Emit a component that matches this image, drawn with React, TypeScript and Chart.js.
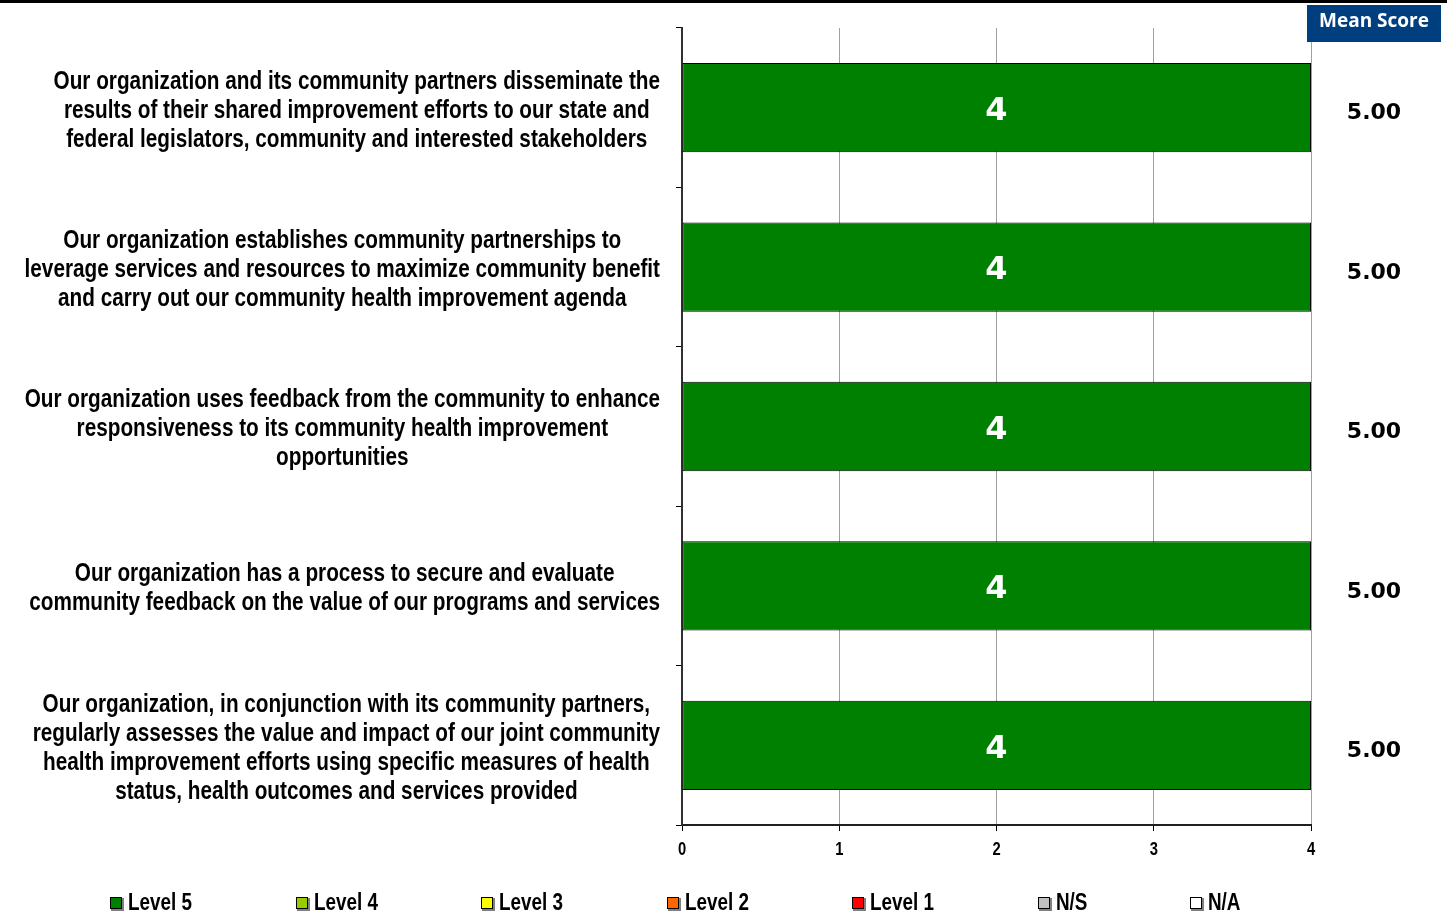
import React, { useEffect, useRef } from "react";
import { Chart, registerables } from "chart.js";

Chart.register(...registerables);

const categories: string[][] = [
  ["Our organization and its community partners disseminate the", "results of their shared improvement efforts to our state and", "federal legislators, community and interested stakeholders"],
  ["Our organization establishes community partnerships to", "leverage services and resources to maximize community benefit", "and carry out our community health improvement agenda"],
  ["Our organization uses feedback from the community to enhance", "responsiveness to its community health improvement", "opportunities"],
  ["Our organization has a process to secure and evaluate", "community feedback on the value of our programs and services"],
  ["Our organization, in conjunction with its community partners,", "regularly assesses the value and impact of our joint community", "health improvement efforts using specific measures of health", "status, health outcomes and services provided"],
];

const seriesNames = ["Level 5", "Level 4", "Level 3", "Level 2", "Level 1", "N/S", "N/A"];
const seriesColors = ["#008000", "#99CC00", "#FFFF00", "#FF6600", "#FF0000", "#C0C0C0", "#FFFFFF"];
const level5 = [4, 4, 4, 4, 4];
const level4 = [0, 0, 0, 0, 0];
const level3 = [0, 0, 0, 0, 0];
const level2 = [0, 0, 0, 0, 0];
const level1 = [0, 0, 0, 0, 0];
const notSure = [0, 0, 0, 0, 0];
const notApplicable = [0, 0, 0, 0, 0];
const meanScores = [5.0, 5.0, 5.0, 5.0, 5.0];
const xTicks = [0, 1, 2, 3, 4];

const SANS = '"Liberation Sans", Arial, sans-serif';
const VERD = '"DejaVu Sans", Verdana, sans-serif';
const LABEL_SCALE = 0.83;

function narrowText(ctx: any, text: string, x: number, y: number, align: string, scale: number) {
  ctx.save();
  ctx.translate(x, y);
  ctx.scale(scale, 1);
  ctx.textAlign = align;
  ctx.fillText(text, 0, 0);
  ctx.restore();
}

const customPlugin = {
  id: "custom",
  afterDraw(chart: any) {
    const ctx = chart.ctx;
    const y = chart.scales.y;
    const x = chart.scales.x;
    ctx.save();
    // top black rule
    ctx.fillStyle = "#000";
    ctx.fillRect(0, 0, chart.width, 3);
    // Mean score header
    ctx.fillStyle = "#003F7F";
    ctx.fillRect(1307, 5, 134, 37);
    ctx.fillStyle = "#fff";
    ctx.font = 'bold 19px "Open Sans", sans-serif';
    ctx.textAlign = "center";
    ctx.textBaseline = "middle";
    ctx.fillText("Mean Score", 1374, 22);
    // category labels: block right-aligned to the axis, lines centred in block
    ctx.fillStyle = "#000";
    ctx.font = "bold 25px " + SANS;
    const lh = 29;
    const rightEdge = y.right - 22;
    categories.forEach((lines, i) => {
      const widest = Math.max(...lines.map((l) => ctx.measureText(l).width)) * LABEL_SCALE;
      const cx = rightEdge - widest / 2;
      const cy = y.getPixelForValue(i);
      const start = cy - ((lines.length - 1) * lh) / 2;
      lines.forEach((ln, j) => narrowText(ctx, ln, cx, start + j * lh + 3, "center", LABEL_SCALE));
    });
    // x tick labels
    ctx.font = "bold 18px " + SANS;
    xTicks.forEach((v) => narrowText(ctx, String(v), x.getPixelForValue(v), 850, "center", 0.82));
    // bar value labels
    const meta = chart.getDatasetMeta(0);
    ctx.font = "bold 32px " + VERD;
    ctx.fillStyle = "#fff";
    ctx.textAlign = "center";
    meta.data.forEach((bar: any, i: number) => {
      const v = level5[i];
      if (!v) return;
      ctx.fillText(String(v), x.getPixelForValue(v / 2), bar.y + 4);
    });
    // mean scores
    ctx.fillStyle = "#000";
    ctx.font = "bold 22px " + VERD;
    meanScores.forEach((m, i) => {
      ctx.fillText(m.toFixed(2), 1374, y.getPixelForValue(i) + 6);
    });
    // legend
    const lx = [110, 296, 481, 667, 852, 1038, 1190];
    const ly = 903;
    seriesNames.forEach((n, i) => {
      const bx = lx[i];
      ctx.fillStyle = "#808080";
      ctx.fillRect(bx + 1, ly - 5, 13, 13);
      ctx.fillStyle = seriesColors[i];
      ctx.fillRect(bx, ly - 6, 12, 12);
      ctx.strokeStyle = "#000";
      ctx.lineWidth = 1;
      ctx.strokeRect(bx + 0.5, ly - 5.5, 11, 11);
      ctx.fillStyle = "#000";
      ctx.font = "bold 23px " + SANS;
      narrowText(ctx, n, bx + 18, ly + 1, "left", 0.82);
    });
    ctx.restore();
  },
};

export default function App() {
  const ref = useRef<HTMLCanvasElement>(null);
  useEffect(() => {
    if (!ref.current) return;
    const seriesData = [level5, level4, level3, level2, level1, notSure, notApplicable];
    const chart = new Chart(ref.current, {
      type: "bar",
      data: {
        labels: categories.map((c) => c.join(" ")),
        datasets: seriesNames.map((n, i) => ({
          label: n,
          data: seriesData[i],
          backgroundColor: seriesColors[i],
          borderColor: "#000",
          borderWidth: 1,
          borderSkipped: false,
          barPercentage: 0.56,
          categoryPercentage: 1,
        })),
      },
      options: {
        indexAxis: "y",
        animation: false,
        responsive: false,
        maintainAspectRatio: false,
        layout: { padding: { top: 28, right: 136, bottom: 0, left: 0 } },
        plugins: { legend: { display: false }, tooltip: { enabled: false } },
        scales: {
          x: {
            stacked: true,
            min: 0,
            max: 4,
            afterBuildTicks: (s: any) => {
              s.ticks = xTicks.map((v) => ({ value: v }));
            },
            afterFit: (s: any) => {
              s.height = 94;
            },
            grid: { color: "#A0A0A0", lineWidth: 1, tickColor: "#000", tickLength: 6 },
            border: { color: "#202020", width: 2 },
            ticks: { display: false },
          },
          y: {
            stacked: true,
            afterFit: (s: any) => {
              s.width = 682;
            },
            grid: { offset: true, drawOnChartArea: false, color: "#000", tickLength: 6 },
            border: { color: "#303030", width: 2 },
            ticks: { display: false },
          },
        },
      },
      plugins: [customPlugin],
    });
    return () => chart.destroy();
  }, []);
  return (
    <div style={{ position: "fixed", left: 0, top: 0, width: 1447, height: 919, background: "#fff" }}>
      <canvas ref={ref} width={1447} height={919} style={{ width: 1447, height: 919 }} />
    </div>
  );
}
